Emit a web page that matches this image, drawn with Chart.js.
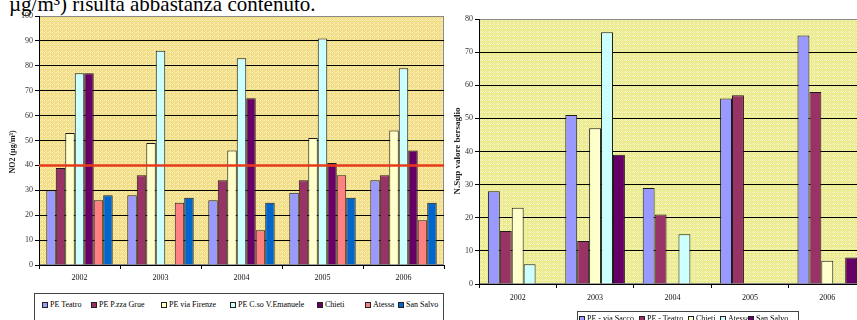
<!DOCTYPE html>
<html>
<head>
<meta charset="utf-8">
<script src="https://cdn.jsdelivr.net/npm/chart.js@4.4.1/dist/chart.umd.min.js"></script>
<style>
  html, body { margin: 0; padding: 0; background: #fff; }
  body { width: 857px; height: 320px; overflow: hidden; position: relative; font-family: "Liberation Serif", "Times New Roman", serif; }
  #lead { position: absolute; left: 9px; top: -6px; font-size: 21px; line-height: 21px; white-space: nowrap; color: #000; }
  #wrap1 { position: absolute; left: 0; top: 0; width: 450px; height: 290px; }
  #wrap2 { position: absolute; left: 440px; top: 0; width: 440px; height: 310px; }
  .legend { position: absolute; border: 1px solid #444; background: #fff; font-family: "Liberation Serif", "Times New Roman", serif; font-size: 8px; line-height: 10px; white-space: nowrap; color: #000; box-sizing: border-box; }
  .legend .it { position: absolute; display: flex; align-items: center; }
  .legend .sw { width: 6px; height: 6px; border: 1px solid #222; margin-right: 2px; box-sizing: border-box; }
  #leg1 { left: 34px; top: 293px; width: 410px; height: 40px; }
  #leg1 .it { top: 6px; }
  #leg1 .it:nth-child(1) { left: 7px; }
  #leg1 .it:nth-child(2) { left: 56px; }
  #leg1 .it:nth-child(3) { left: 126px; }
  #leg1 .it:nth-child(4) { left: 195px; }
  #leg1 .it:nth-child(5) { left: 282px; }
  #leg1 .it:nth-child(6) { left: 330px; }
  #leg1 .it:nth-child(7) { left: 363px; }
  #leg2 { left: 577px; top: 311px; width: 222px; height: 20px; }
  #leg2 .it { top: 2px; }
  #leg2 .it:nth-child(1) { left: 1px; }
  #leg2 .it:nth-child(2) { left: 61px; }
  #leg2 .it:nth-child(3) { left: 110px; }
  #leg2 .it:nth-child(4) { left: 142px; }
  #leg2 .it:nth-child(5) { left: 170px; }
</style>
</head>
<body>
<div id="lead">µg/m³) risulta abbastanza contenuto.</div>
<div id="wrap1"><canvas id="no2"></canvas></div>
<div id="wrap2"><canvas id="sup"></canvas></div>
<div id="leg1" class="legend"></div>
<div id="leg2" class="legend"></div>
<script>
// Years on the category axis
const years = ['2002', '2003', '2004', '2005', '2006'];

// Annual mean NO2 (µg/m³) per station
const peTeatro    = [30, 28, 26, 29, 34];
const peGrue      = [39, 36, 34, 34, 36];
const peFirenze   = [53, 49, 46, 51, 54];
const peEmanuele  = [77, 86, 83, 91, 79];
const chieti      = [77, null, 67, 41, 46];
const atessa      = [26, 25, 14, 36, 18];
const sanSalvo    = [28, 27, 25, 27, 25];
const no2Limit    = 40;   // annual limit value
const no2Max      = 100;
const no2Step     = 10;

// Number of exceedances of the target value per station
const supViaSacco = [28, 51, 29, 56, 75];
const supTeatro   = [16, 13, 21, 57, 58];
const supChieti   = [23, 47, null, null, 7];
const supAtessa   = [6, 76, 15, null, null];
const supSanSalvo = [null, 39, null, null, 8];
const supMax      = 80;
const supStep     = 10;

const serif = '"Liberation Serif", "Times New Roman", serif';

// dotted yellow fill used behind the plot area
function dottedPattern(ctx, base, dot) {
  const t = document.createElement('canvas');
  t.width = 4; t.height = 4;
  const c = t.getContext('2d');
  c.fillStyle = base; c.fillRect(0, 0, 4, 4);
  c.fillStyle = dot;
  c.fillRect(0, 0, 1, 1); c.fillRect(2, 2, 1, 1);
  c.fillRect(2, 0, 1, 1); c.fillRect(1, 3, 1, 1);
  return ctx.createPattern(t, 'repeat');
}

const plotBackground = {
  id: 'plotBackground',
  beforeDraw(chart, args, opts) {
    const { ctx, chartArea: a } = chart;
    ctx.save();
    ctx.fillStyle = dottedPattern(ctx, opts.base, opts.dot);
    ctx.fillRect(a.left, a.top, a.right - a.left, a.bottom - a.top);
    ctx.strokeStyle = '#8a8a8a';
    ctx.lineWidth = 1;
    ctx.strokeRect(a.left + 0.5, a.top + 0.5, a.right - a.left - 1, a.bottom - a.top - 1);
    ctx.restore();
  }
};

const limitLine = {
  id: 'limitLine',
  afterDatasetsDraw(chart, args, opts) {
    if (opts.value == null) return;
    const { ctx, chartArea: a, scales } = chart;
    const y = scales.y.getPixelForValue(opts.value);
    ctx.save();
    ctx.strokeStyle = opts.color;
    ctx.lineWidth = opts.width;
    ctx.beginPath();
    ctx.moveTo(a.left, y);
    ctx.lineTo(a.right, y);
    ctx.stroke();
    ctx.restore();
  }
};

const sideTitle = {
  id: 'sideTitle',
  afterDraw(chart, args, opts) {
    const { ctx } = chart;
    ctx.save();
    ctx.translate(opts.x, opts.y);
    ctx.rotate(-Math.PI / 2);
    ctx.font = 'bold ' + opts.size + 'px ' + serif;
    ctx.fillStyle = '#222';
    ctx.textAlign = 'center';
    ctx.textBaseline = 'middle';
    ctx.fillText(opts.text, 0, 0);
    ctx.restore();
  }
};

function makeSeries(list, catPct) {
  return list.map(s => ({
    label: s.label,
    data: s.data,
    backgroundColor: s.color,
    borderColor: '#1a1a1a',
    borderWidth: 1,
    categoryPercentage: catPct,
    barPercentage: 1
  }));
}

function axes(max, step, yWidth, xHeight, xPad) {
  return {
    x: {
      ticks: { color: '#111', font: { family: serif, size: 8 }, padding: xPad, maxRotation: 0 },
      grid: { drawOnChartArea: false, tickLength: 4, color: '#000' },
      border: { color: '#000' },
      afterFit(s) { s.height = xHeight; }
    },
    y: {
      min: 0, max: max,
      ticks: { stepSize: step, color: '#333', font: { family: serif, size: 8 }, padding: 2 },
      grid: { color: c => (c.tick && c.tick.value === max) ? '#8a8a8a' : '#000', tickColor: '#000', lineWidth: 1, tickLength: 4 },
      border: { color: '#000' },
      afterFit(s) { s.width = yWidth; }
    }
  };
}

const no2Series = [
  { label: 'PE Teatro',          data: peTeatro,   color: '#9999ff' },
  { label: 'PE P.zza Grue',      data: peGrue,     color: '#993366' },
  { label: 'PE via Firenze',     data: peFirenze,  color: '#ffffcc' },
  { label: 'PE C.so V.Emanuele', data: peEmanuele, color: '#ccffff' },
  { label: 'Chieti',             data: chieti,     color: '#660066' },
  { label: 'Atessa',             data: atessa,     color: '#ff8080' },
  { label: 'San Salvo',          data: sanSalvo,   color: '#0066cc' }
];

const supSeries = [
  { label: 'PE - via Sacco', data: supViaSacco, color: '#9999ff' },
  { label: 'PE - Teatro',    data: supTeatro,   color: '#993366' },
  { label: 'Chieti',         data: supChieti,   color: '#ffffcc' },
  { label: 'Atessa',         data: supAtessa,   color: '#ccffff' },
  { label: 'San Salvo',      data: supSanSalvo, color: '#660066' }
];

const common = {
  responsive: true,
  maintainAspectRatio: false,
  animation: false,
  devicePixelRatio: 1
};

new Chart(document.getElementById('no2'), {
  type: 'bar',
  data: { labels: years, datasets: makeSeries(no2Series, 0.82) },
  options: Object.assign({}, common, {
    layout: { padding: { left: 0, right: 6, top: 16, bottom: 0 } },
    scales: axes(no2Max, no2Step, 39, 25, 4),
    plugins: {
      legend: { display: false },
      tooltip: { enabled: false },
      plotBackground: { base: '#f3de88', dot: '#fbefbd' },
      limitLine: { value: no2Limit, color: '#e83a1a', width: 2.5 },
      sideTitle: { text: 'NO2 (µg/m³)', x: 13, y: 152, size: 8 }
    }
  }),
  plugins: [plotBackground, limitLine, sideTitle]
});

new Chart(document.getElementById('sup'), {
  type: 'bar',
  data: { labels: years, datasets: makeSeries(supSeries, 0.77) },
  options: Object.assign({}, common, {
    layout: { padding: { left: 0, right: 14, top: 19, bottom: 0 } },
    scales: axes(supMax, supStep, 39, 26, 5),
    plugins: {
      legend: { display: false },
      tooltip: { enabled: false },
      plotBackground: { base: '#ebeb8c', dot: '#f5f5cf' },
      sideTitle: { text: 'N.Sup valore bersaglio', x: 18, y: 151, size: 9 }
    }
  }),
  plugins: [plotBackground, sideTitle]
});

// legends built from the series lists
function buildLegend(id, series) {
  const box = document.getElementById(id);
  series.forEach(s => {
    const it = document.createElement('div');
    it.className = 'it';
    const sw = document.createElement('span');
    sw.className = 'sw';
    sw.style.background = s.color;
    const tx = document.createElement('span');
    tx.textContent = s.label;
    it.appendChild(sw); it.appendChild(tx);
    box.appendChild(it);
  });
}
buildLegend('leg1', no2Series);
buildLegend('leg2', supSeries);
</script>
</body>
</html>
